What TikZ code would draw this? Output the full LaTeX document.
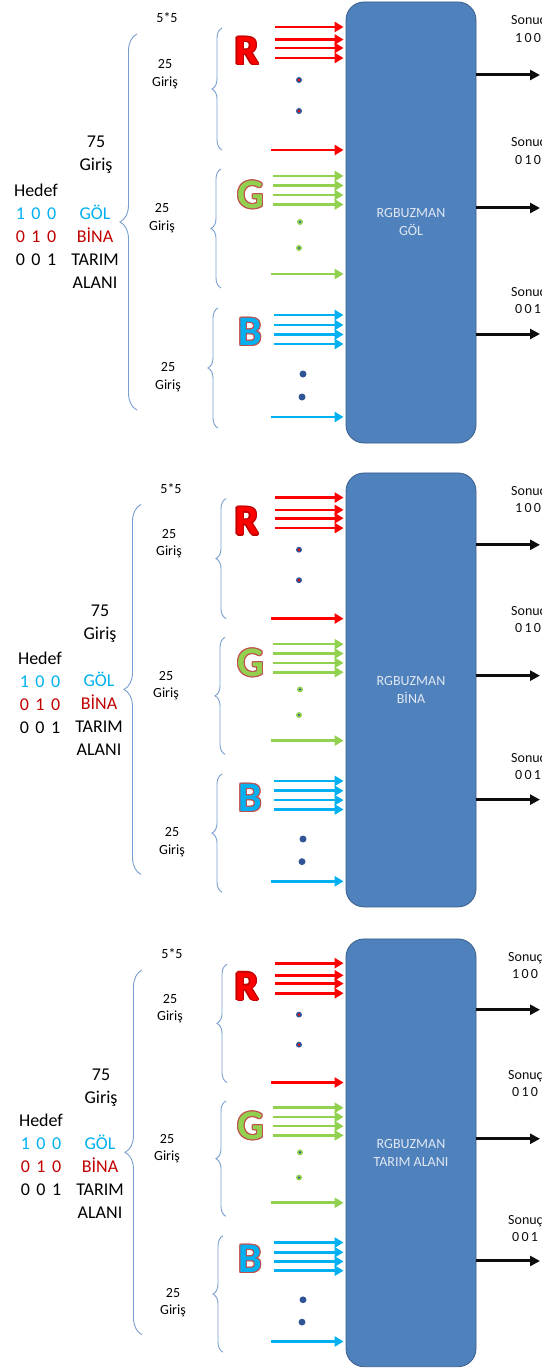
\documentclass[tikz,border=0pt]{standalone}
\usepackage{fontspec}
\setmainfont{Carlito}
\usepackage{tikz}
\usetikzlibrary{arrows.meta, positioning, calc, decorations.pathreplacing}
\definecolor{KRed}{RGB}{255, 0, 0}
\definecolor{KGreen}{RGB}{146, 208, 80}
\definecolor{KCyan}{RGB}{0, 176, 240}
\definecolor{KDarkRed}{RGB}{192, 0, 0}
\definecolor{KRose}{RGB}{192, 80, 77}
\definecolor{KBox}{RGB}{79, 129, 189}
\definecolor{KBoxLine}{RGB}{56, 93, 138}
\definecolor{KBoxText}{RGB}{225, 232, 243}
\definecolor{KBrace}{RGB}{120, 158, 208}
\definecolor{KDot}{RGB}{47, 85, 151}
\definecolor{KOut}{RGB}{13, 13, 13}
\newcommand{\trip}[3]{#1\hspace{6.5pt}#2\hspace{6.5pt}#3}
\newcommand{\otrip}[3]{#1\hspace{2.2pt}#2\hspace{2.2pt}#3}
\newcommand{\rgbletter}[5]{% ad, konum, dolgu, kontur, harf
  \foreach \ox/\oy in {-1.2/0, 1.2/0, 0/-1.2, 0/1.2, 0.85/0.85, -0.85/0.85, 0.85/-0.85, -0.85/-0.85}
    {\node[rgbtxt, text=#4, xshift=\ox pt, yshift=\oy pt] at (#2) {#5};}
  \node[rgbtxt, text=#3] (#1) at (#2) {#5};}

\begin{document}
\begin{tikzpicture}[x=1pt, y=-1pt,
    bigtxt/.style={font=\fontsize{18}{23}\selectfont, align=center, inner sep=0pt},
    smalltxt/.style={font=\fontsize{14}{17.5}\selectfont, align=center, inner sep=0pt},
    rgbtxt/.style={font=\fontsize{42}{42}\selectfont\bfseries, inner sep=0pt},
    expert/.style={draw=KBoxLine, fill=KBox, line width=0.8pt, rounded corners=18pt,
        minimum width=130pt, text=KBoxText, font=\fontsize{14}{18}\selectfont, align=center},
    inarrow/.style={line width=2.6pt, -{Triangle[length=9pt, width=10pt]}, shorten >=2pt},
    outarrow/.style={line width=3pt, -{Triangle[length=10pt, width=10pt]}, color=KOut},
    curly/.style={draw=KBrace, line width=0.9pt, decorate, decoration={brace, amplitude=#1}}]
    \useasboundingbox (0,0) rectangle (541,1372);

    \foreach \dy/\sy/\dx/\lx/\lbl/\n in {0/1/0/0/GÖL/1, 471/0.984/4/0/BİNA/2, 937/0.97/5/-3/TARIM ALANI/3}{
    \pgfmathsetmacro\bh{441*\sy}
    \begin{scope}[yshift=-\dy pt, yscale=\sy]
    % uzman kutusu
    \node[expert, minimum height=\bh pt] (box\n) at (411,222.5) {RGBUZMAN\\\lbl};

    % sol metinler
    \node[smalltxt] (dim\n) at (167+\dx,17.5) {5*5};
    \node[bigtxt] (n75\n) at (96+\dx,155) {75\\Giriş};
    \node[bigtxt] (hedef\n) at (36+\dx,225) {Hedef\\\textcolor{KCyan}{\trip100}\\\textcolor{KDarkRed}{\trip010}\\\trip001};
    \node[bigtxt] (sinif\n) at (95+\dx,247) {\textcolor{KCyan}{GÖL}\\\textcolor{KDarkRed}{BİNA}\\TARIM\\ALANI};
    \node[smalltxt] (gr\n) at (165+\dx,74) {25\\Giriş};
    \node[smalltxt] (gg\n) at (162+\dx,218) {25\\Giriş};
    \node[smalltxt] (gb\n) at (168+\dx,377) {25\\Giriş};

    % parantezler
    \draw[curly=17pt] (137+\dx,410) -- (137+\dx,34);
    \draw[curly=10pt] (222+\dx,150) -- (222+\dx,28);
    \draw[curly=10pt] (221+\dx,288) -- (221+\dx,169);
    \draw[curly=10pt] (218+\dx,428) -- (218+\dx,308);

    % R, G, B
    \rgbletter{R\n}{247,51}{KRed}{KDarkRed}{R}
    \rgbletter{G\n}{251,195}{KGreen}{KRose}{G}
    \rgbletter{B\n}{250,332}{KCyan}{KRose}{B}

    % kirmizi girisler
    \foreach \ya [count=\k] in {27,39.5,48,58}{
      \coordinate (r\n\k) at (275,\ya);
      \draw[inarrow, KRed] (r\n\k) -- (r\n\k -| box\n.west);}
    \coordinate (r\n9) at (271,150);
    \draw[inarrow, KRed] (r\n9) -- (r\n9 -| box\n.west);
    \fill[KDot] (299,80) circle (3pt);  \fill[KRed] (299,80) circle (1.3pt);
    \fill[KDot] (299,111) circle (3pt); \fill[KRed] (299,111) circle (1.3pt);

    % yesil girisler
    \foreach \ya [count=\k] in {176,185.5,195,204.5}{
      \coordinate (g\n\k) at (273,\ya);
      \draw[inarrow, KGreen] (g\n\k) -- (g\n\k -| box\n.west);}
    \coordinate (g\n9) at (271,274);
    \draw[inarrow, KGreen] (g\n9) -- (g\n9 -| box\n.west);
    \fill[KGreen] (300,222) circle (3pt); \fill[KDot] (300,222) circle (1.2pt);
    \fill[KGreen] (299,248) circle (3pt); \fill[KDot] (299,248) circle (1.2pt);

    % mavi girisler
    \foreach \ya [count=\k] in {315,325,334.5,344}{
      \coordinate (b\n\k) at (274,\ya);
      \draw[inarrow, KCyan] (b\n\k) -- (b\n\k -| box\n.west);}
    \coordinate (b\n9) at (271,417);
    \draw[inarrow, KCyan] (b\n9) -- (b\n9 -| box\n.west);
    \fill[KDot] (303,374) circle (3.5pt);
    \fill[KDot] (302,397) circle (3.5pt);

    % cikislar
    \foreach \yo/\ys/\bits/\k in {75/25/{\otrip100}/1, 208/147/{\otrip010}/2, 334/296/{\otrip001}/3}{
      \coordinate (o\n\k) at (540,\yo);
      \draw[outarrow] (o\n\k -| box\n.east) -- (o\n\k);
      \node[smalltxt, text=KOut, anchor=base west] (s\n\k) at (511+\lx,\ys) {Sonuç};
      \node[smalltxt, text=KOut, anchor=base west] (c\n\k) at (515+\lx,\ys+17.5) {\bits};}
    \end{scope}
    }
\end{tikzpicture}
\end{document}
